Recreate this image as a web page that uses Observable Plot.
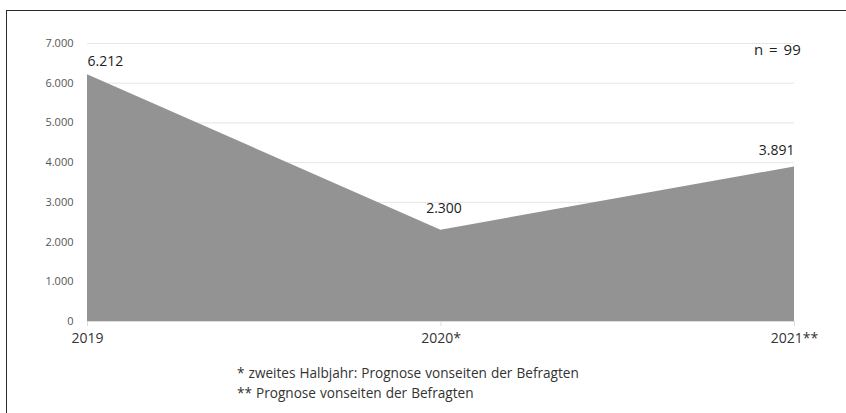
<!DOCTYPE html>
<html>
<head>
<meta charset="utf-8">
<script src="https://cdn.jsdelivr.net/npm/d3@7"></script>
<script src="https://cdn.jsdelivr.net/npm/@observablehq/plot@0.6"></script>
<style>
  html, body { margin: 0; padding: 0; background: #fff; }
  body { width: 846px; height: 413px; position: relative; overflow: hidden; font-family: "Open Sans", "Noto Sans", sans-serif; }
  #frame { position: absolute; left: 6px; top: 10px; width: 846px; height: 410px; border-top: 1.5px solid #2a2a2a; border-left: 1.5px solid #2a2a2a; }
  #chart { position: absolute; left: 0; top: 0; }
  #note { position: absolute; left: 237px; top: 363px; font-size: 13.6px; line-height: 19.5px; color: #333; word-spacing: 0.5px; }
  #n { position: absolute; left: 754px; top: 39px; font-size: 15px; color: #222; word-spacing: 2px; }
</style>
</head>
<body>
<div id="frame"></div>
<div id="chart"></div>
<div id="n">n = 99</div>
<div id="note">* zweites Halbjahr: Prognose vonseiten der Befragten<br>** Prognose vonseiten der Befragten</div>
<script>
const categories = ["2019", "2020*", "2021**"];
const values = [6212, 2300, 3891];
const yTicks = [0, 1000, 2000, 3000, 4000, 5000, 6000, 7000];

const data = categories.map((c, i) => ({i, label: c, value: values[i]}));
const fmt = d => d3.format(",")(d).replace(/,/g, ".");

const chart = Plot.plot({
  width: 846,
  height: 350,
  marginLeft: 87,
  marginRight: 52,
  marginTop: 43,
  marginBottom: 29,
  style: {fontFamily: "'Open Sans', 'Noto Sans', sans-serif", background: "transparent"},
  x: {domain: [0, 2], ticks: [0, 1, 2], tickFormat: i => categories[i], label: null},
  y: {domain: [0, 7000], ticks: yTicks, tickFormat: fmt, label: null},
  marks: [
    Plot.gridY(yTicks, {stroke: "#e6e6e6", strokeOpacity: 1, strokeWidth: 1}),
    Plot.areaY(data, {x: "i", y: "value", fill: "#939393"}),
    Plot.ruleY([0], {stroke: "#dcdcdc", strokeWidth: 1}),
    Plot.axisY({ticks: yTicks, tickFormat: fmt, tickSize: 0, tickPadding: 14, fontSize: 11, fill: "#555"}),
    Plot.axisX({ticks: [0, 1, 2], tickFormat: i => categories[i], tickSize: 5, tickPadding: 7, fontSize: 14, fill: "#333", stroke: "#dcdcdc"}),
    Plot.text(data.filter(d => d.i === 0), {x: "i", y: "value", text: d => fmt(d.value), textAnchor: "start", dy: -13, fontSize: 14, fill: "#222"}),
    Plot.text(data.filter(d => d.i === 1), {x: "i", y: "value", text: d => fmt(d.value), textAnchor: "middle", dx: 3, dy: -22, fontSize: 14, fill: "#222"}),
    Plot.text(data.filter(d => d.i === 2), {x: "i", y: "value", text: d => fmt(d.value), textAnchor: "end", dy: -16, fontSize: 14, fill: "#222"})
  ]
});
document.getElementById("chart").appendChild(chart);
</script>
</body>
</html>
